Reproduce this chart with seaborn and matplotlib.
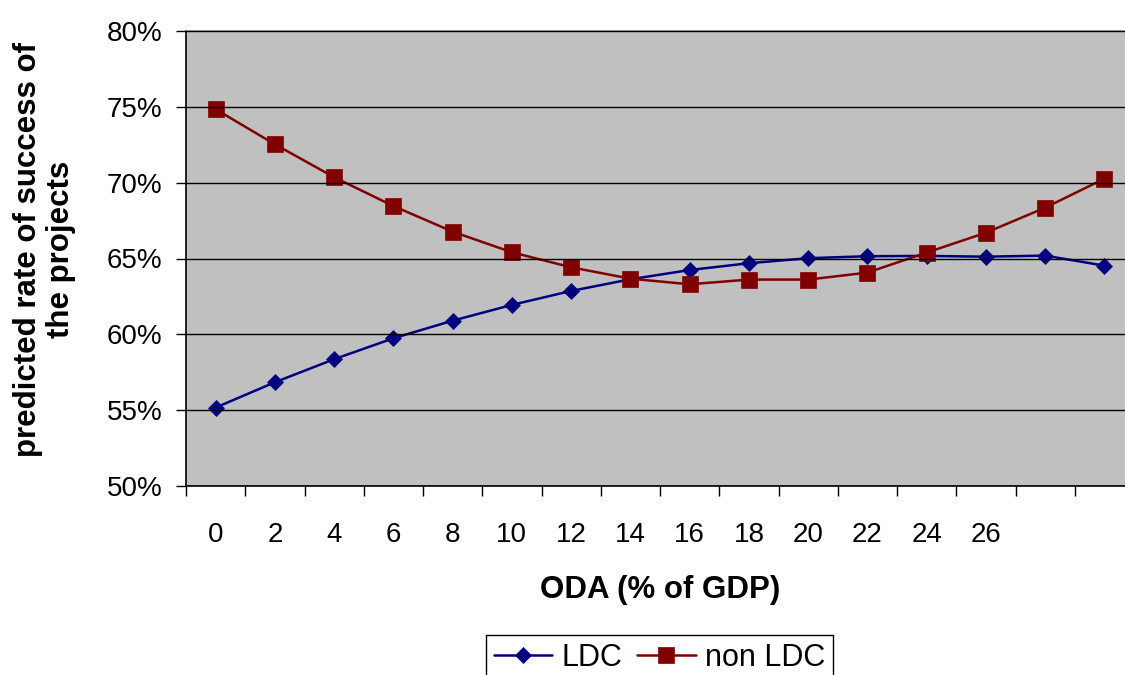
import matplotlib
matplotlib.use("Agg")
import matplotlib.pyplot as plt
from matplotlib.ticker import PercentFormatter, FixedLocator
import seaborn as sns


oda = [0, 2, 4, 6, 8, 10, 12, 14, 16, 18, 20, 22, 24, 26, 28, 30]
oda_labels = ["0", "2", "4", "6", "8", "10", "12", "14", "16", "18",
              "20", "22", "24", "26", "", ""]
ldc = [0.5517, 0.5684, 0.5836, 0.5974, 0.6090, 0.6194, 0.6286, 0.6363,
       0.6424, 0.6469, 0.6502, 0.6515, 0.6517, 0.6512, 0.6519, 0.6453]
non_ldc = [0.7484, 0.7253, 0.7036, 0.6846, 0.6677, 0.6541, 0.6442, 0.6367,
           0.6330, 0.6361, 0.6361, 0.6407, 0.6539, 0.6670, 0.6835, 0.7026]


def main():
    sns.set_theme(style="white")
    plt.rcParams["font.family"] = ["Liberation Sans", "DejaVu Sans"]
    plt.rcParams["text.color"] = "black"
    plt.rcParams["axes.labelcolor"] = "black"
    plt.rcParams["xtick.color"] = "black"
    plt.rcParams["ytick.color"] = "black"

    fig = plt.figure(figsize=(11.25, 6.75), dpi=100)
    ax = fig.add_axes([186 / 1125, 1 - 486 / 675, 948 / 1125, 455 / 675])
    ax.set_facecolor("#C0C0C0")

    sns.lineplot(x=oda, y=ldc, ax=ax, color="#000080", linewidth=1.8,
                 marker="D", markersize=8.5, markeredgecolor="#000080",
                 markeredgewidth=0.5, label="LDC")
    sns.lineplot(x=oda, y=non_ldc, ax=ax, color="#800000", linewidth=1.8,
                 marker="s", markersize=11, markeredgecolor="#800000",
                 markeredgewidth=0.5, label="non LDC")

    ax.set_xlim(-1, 31)
    ax.set_ylim(0.5, 0.8)

    # y axis
    ax.set_yticks([0.5, 0.55, 0.6, 0.65, 0.7, 0.75, 0.8])
    ax.yaxis.set_major_formatter(PercentFormatter(xmax=1, decimals=0))
    ax.tick_params(axis="y", which="major", direction="out", length=7,
                   width=1, color="black", labelsize=20, pad=10, left=True)
    ax.grid(axis="y", color="black", linewidth=1)
    ax.set_axisbelow(False)

    # x axis: labels on categories, tick marks between them
    ax.set_xticks(oda)
    ax.set_xticklabels(oda_labels)
    ax.xaxis.set_minor_locator(FixedLocator([x + 1 for x in [-2] + oda]))
    ax.tick_params(axis="x", which="major", length=0, labelsize=20, pad=26)
    ax.tick_params(axis="x", which="minor", direction="out", length=7,
                   width=1, color="black", bottom=True)

    for side in ["left", "bottom"]:
        ax.spines[side].set_color("black")
        ax.spines[side].set_linewidth(1.2)
    ax.spines["top"].set_color("#808080")
    ax.spines["right"].set_color("#808080")

    ax.set_xlabel("ODA (% of GDP)", fontsize=22.5, fontweight="bold")
    ax.xaxis.set_label_coords(0.5, -0.195)
    ax.set_ylabel("predicted rate of success of\nthe projects", fontsize=22.5,
                  fontweight="bold", multialignment="center", linespacing=1.15)
    ax.yaxis.set_label_coords(-0.116, 0.52)

    ax.legend(loc="upper center", bbox_to_anchor=(659.5 / 1125, 1 - 635 / 675),
              bbox_transform=fig.transFigure, ncol=2, fontsize=22,
              frameon=True, fancybox=False, edgecolor="black",
              framealpha=1, handlelength=1.9, handletextpad=0.3,
              columnspacing=0.5, borderpad=0.25, borderaxespad=0)

    plt.savefig("out.png", dpi=100)


main()
